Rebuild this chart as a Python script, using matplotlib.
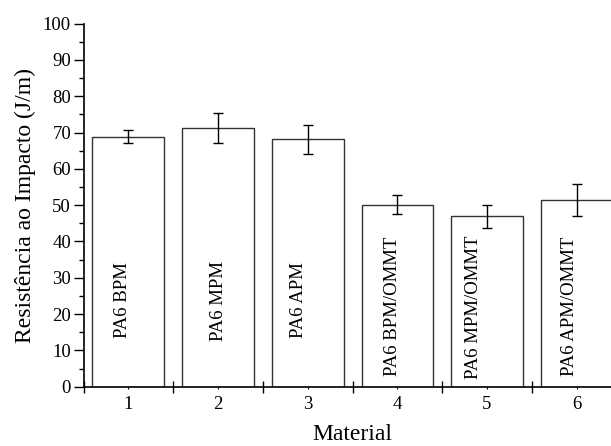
import matplotlib
matplotlib.use("Agg")
import matplotlib.pyplot as plt
from matplotlib.ticker import MultipleLocator, FixedLocator

plt.rcParams['font.family'] = ['Liberation Serif', 'DejaVu Serif']

materials = [1, 2, 3, 4, 5, 6]
values = [68.9, 71.3, 68.2, 50.1, 46.9, 51.4]
errors = [1.8, 4.2, 4.0, 2.6, 3.2, 4.3]
bar_labels = ["PA6 BPM", "PA6 MPM", "PA6 APM",
              "PA6 BPM/OMMT", "PA6 MPM/OMMT", "PA6 APM/OMMT"]

fig = plt.figure(figsize=(6.11, 4.46), dpi=100)
ax = fig.add_axes([0.1367, 0.133, 0.8806, 0.814])

ax.bar(materials, values, width=0.8, color='white', edgecolor='#333333', linewidth=1.0, zorder=2)
ax.errorbar(materials, values, yerr=errors, fmt='none', ecolor='black',
            elinewidth=1.0, capsize=3.5, capthick=1.0, zorder=3)

x_off = [-0.07, 0.0, -0.10, -0.06, -0.15, -0.08]
y_ctr = [23.9, 23.7, 23.8, 22.1, 22.0, 22.1]
for m, lab, dx, yc in zip(materials, bar_labels, x_off, y_ctr):
    ax.text(m + dx, yc, lab, rotation=90, ha='center', va='center', fontsize=13.5, zorder=4)

ax.set_xlim(0.5, 6.5)
ax.set_ylim(0, 100)
ax.set_xticks(materials)
ax.set_xticklabels([str(m) for m in materials])
ax.xaxis.set_minor_locator(FixedLocator([0.5, 1.5, 2.5, 3.5, 4.5, 5.5]))
ax.tick_params(axis='x', which='major', length=1.5, direction='out', labelsize=13.5, pad=5)
ax.tick_params(axis='x', which='minor', length=9, direction='inout', width=1.0)
ax.yaxis.set_major_locator(MultipleLocator(10))
ax.yaxis.set_minor_locator(MultipleLocator(5))
ax.tick_params(axis='y', which='major', length=7, direction='out', labelsize=13.5, width=1.0, pad=2)
ax.tick_params(axis='y', which='minor', length=3.5, direction='out', width=1.0)

for s in ['top', 'right']:
    ax.spines[s].set_visible(False)
for s in ['left', 'bottom']:
    ax.spines[s].set_linewidth(1.2)

ax.set_xlabel("Material", fontsize=17, labelpad=8)
ax.set_ylabel("Resistência ao Impacto (J/m)", fontsize=17, labelpad=5)

fig.savefig("out.png", dpi=100)
